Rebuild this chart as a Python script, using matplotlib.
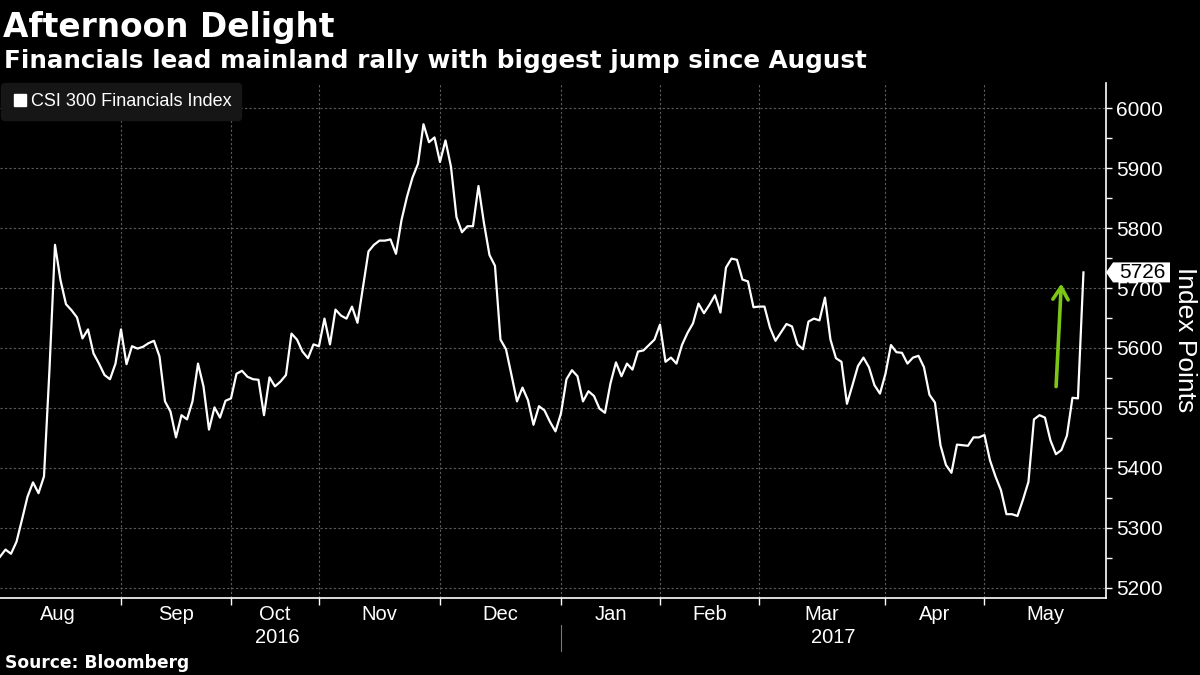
import matplotlib
matplotlib.use("Agg")
import matplotlib.pyplot as plt
from matplotlib.lines import Line2D
from matplotlib.patches import Polygon
import numpy as np

# CSI 300 Financials Index, daily closes (Aug 2016 - May 2017)
aug_vals = [5252, 5264, 5257, 5277, 5314, 5352, 5376, 5358, 5386, 5565, 5772,
            5713, 5673, 5663, 5651, 5616, 5631, 5591, 5574, 5555, 5548, 5574]
sep_vals = [5631, 5573, 5603, 5599, 5602, 5608, 5612, 5586, 5511, 5494,
            5451, 5488, 5481, 5511, 5574, 5536, 5464, 5501, 5484, 5512]
oct_vals = [5516, 5557, 5562, 5552, 5548, 5547, 5488, 5551, 5536, 5544,
            5555, 5624, 5614, 5594, 5583, 5606]
nov_vals = [5603, 5649, 5606, 5664, 5654, 5649, 5669, 5642, 5702, 5761, 5772,
            5779, 5779, 5781, 5757, 5813, 5852, 5884, 5907, 5973, 5943, 5951]
dec_vals = [5910, 5946, 5902, 5818, 5793, 5803, 5803, 5870, 5808, 5755, 5737,
            5614, 5598, 5555, 5511, 5534, 5513, 5472, 5503, 5496, 5477, 5461]
jan_vals = [5491, 5548, 5563, 5553, 5511, 5528, 5520, 5499, 5492, 5541,
            5576, 5553, 5574, 5564, 5594, 5596, 5605, 5614]
feb_vals = [5639, 5577, 5584, 5574, 5605, 5625, 5641, 5674, 5658, 5672,
            5688, 5659, 5734, 5749, 5747, 5714, 5711, 5668]
mar_vals = [5669, 5669, 5634, 5612, 5626, 5640, 5636, 5606, 5598, 5644, 5649,
            5646, 5684, 5614, 5583, 5577, 5507, 5538, 5570, 5584, 5568, 5538, 5524]
apr_vals = [5557, 5605, 5593, 5592, 5574, 5584, 5587, 5568, 5522, 5509,
            5438, 5405, 5392, 5439, 5438, 5437, 5451, 5451]
may_vals = [5455, 5413, 5386, 5363, 5323, 5323, 5320, 5347, 5377, 5481,
            5488, 5484, 5446, 5423, 5430, 5454, 5517, 5516, 5726]

months = ["Aug", "Sep", "Oct", "Nov", "Dec", "Jan", "Feb", "Mar", "Apr", "May"]
years = ["2016", "2017"]
last_value = 5726

month_vals = [aug_vals, sep_vals, oct_vals, nov_vals, dec_vals,
              jan_vals, feb_vals, mar_vals, apr_vals, may_vals]
values = np.concatenate(month_vals)
x = np.arange(len(values))

# month boundaries in trading-day units (Aug starts one day before the first close)
starts = np.concatenate([[0], np.cumsum([len(m) for m in month_vals])[:-1]]).astype(float)
x_end = 201.1
label_starts = starts.copy()
label_starts[0] = -1
ends = np.concatenate([starts[1:], [x_end]])
centers = (label_starts + ends) / 2.0

W, H = 1200, 675
fig = plt.figure(figsize=(12, 6.75), dpi=100, facecolor="black")
ax = fig.add_axes([0, 77 / H, 1106 / W, 515 / H])
ax.set_facecolor("black")

ax.plot(x, values, color="white", linewidth=1.6, zorder=3)

ax.set_xlim(0, x_end)
ax.set_ylim(5183.3, 6041.7)

# grid
ax.set_xticks(starts[1:])
ax.set_yticks(np.arange(5200, 6001, 100))
ax.set_yticks(np.arange(5250, 6000, 100), minor=True)
ax.grid(True, which="major", color="#5c5c5c", linestyle=(0, (2, 2)), linewidth=0.8)

for s in ["top", "left"]:
    ax.spines[s].set_visible(False)
for s in ["right", "bottom"]:
    ax.spines[s].set_color("white")
    ax.spines[s].set_linewidth(1.2)

ax.yaxis.tick_right()
ax.tick_params(axis="y", which="both", colors="white", length=4, width=1,
               labelsize=15, pad=3)
ax.tick_params(axis="x", which="major", colors="white", length=5, width=1,
               labelbottom=False)
ax.set_xticks(centers, minor=True)
ax.set_xticklabels(months, minor=True)
ax.tick_params(axis="x", which="minor", length=0, labelsize=14.5, pad=5,
               labelcolor="white")
for lab in ax.get_yticklabels() + ax.get_xticklabels(minor=True):
    lab.set_family(["Liberation Sans", "DejaVu Sans"])

# year labels and separator
trans_x = ax.get_xaxis_transform()
ax.text((label_starts[0] + starts[5]) / 2.0, -0.076, years[0], transform=trans_x,
        ha="center", va="center", color="white", fontsize=14.5,
        family=["Liberation Sans", "DejaVu Sans"])
ax.text((starts[5] + x_end) / 2.0, -0.076, years[1], transform=trans_x,
        ha="center", va="center", color="white", fontsize=14.5,
        family=["Liberation Sans", "DejaVu Sans"])
ax.plot([starts[5], starts[5]], [-0.052, -0.103], transform=trans_x,
        color="#777777", linewidth=0.8, clip_on=False)

# legend
handle = Line2D([], [], marker="s", color="white", linestyle="none", markersize=8)
leg = ax.legend([handle], ["CSI 300 Financials Index"], loc="upper left",
                bbox_to_anchor=(0.001, 1.0), borderaxespad=0, frameon=True,
                facecolor="#161616", edgecolor="#161616",
                labelcolor="white", handletextpad=0.1, borderpad=0.55,
                handlelength=1.0,
                prop={"family": ["Liberation Sans", "DejaVu Sans"], "size": 13})
leg.get_frame().set_alpha(1)

# green arrow showing the jump
ax.annotate("", xy=(193.0, 5712), xytext=(192.0, 5531),
            arrowprops=dict(arrowstyle="->,head_length=0.9,head_width=0.55",
                            color="#7cc616", lw=2.6), zorder=4)

# last value tag
px, py = ax.transData.transform((x_end, last_value))
tag_y = py / H
tag = Polygon([[1106 / W, tag_y], [1113 / W, tag_y + 10 / H], [1170 / W, tag_y + 10 / H],
               [1170 / W, tag_y - 10 / H], [1113 / W, tag_y - 10 / H]],
              closed=True, transform=fig.transFigure, facecolor="white",
              edgecolor="none", zorder=5)
fig.patches.append(tag)
fig.text(1142 / W, tag_y, str(last_value), ha="center", va="center", color="black",
         fontsize=15, family=["Liberation Sans", "DejaVu Sans"], zorder=6)

fig.text(1185 / W, 1 - 340 / H, "Index Points", rotation=270, ha="center", va="center",
         color="white", fontsize=19, family=["Liberation Sans", "DejaVu Sans"])

# titles and source
fig.text(3 / W, 1 - 36.7 / H, "Afternoon Delight", ha="left", va="baseline",
         color="white", fontsize=23.7, weight="bold", family=["DejaVu Sans"])
fig.text(4 / W, 1 - 67.7 / H, "Financials lead mainland rally with biggest jump since August",
         ha="left", va="baseline", color="white", fontsize=17.7, weight="bold",
         family=["DejaVu Sans"])
fig.text(5 / W, 1 - 668 / H, "Source: Bloomberg", ha="left", va="baseline",
         color="white", fontsize=12.3, weight="bold", family=["DejaVu Sans"])

fig.savefig("out.png", dpi=100, facecolor="black")
